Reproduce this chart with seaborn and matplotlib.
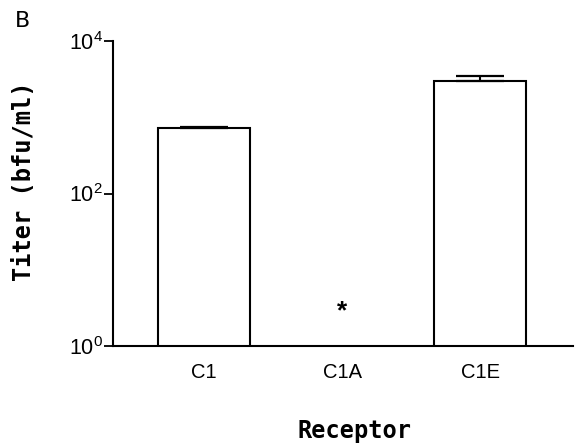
import numpy as np
import pandas as pd
import matplotlib
matplotlib.use("Agg")
import matplotlib.pyplot as plt
import seaborn as sns

# ---- data ----
receptors = ["C1", "C1A", "C1E"]
titer = [717.0, np.nan, 3016.0]          # C1A: below detection (asterisk)
titer_err_upper = [36.0, np.nan, 454.0]
ytick_values = [1, 100, 10000]
ytick_labels = [r"$10^{0}$", r"$10^{2}$", r"$10^{4}$"]
annotation_text = "*"
annotation_pos = ("C1A", 2.85)

sns.set_theme(style="white")
plt.rcParams["font.family"] = ["Liberation Sans", "DejaVu Sans"]
plt.rcParams["mathtext.fontset"] = "custom"
plt.rcParams["mathtext.rm"] = "Liberation Sans"
plt.rcParams["mathtext.it"] = "Liberation Sans"
plt.rcParams["mathtext.bf"] = "Liberation Sans:bold"

df = pd.DataFrame({"Receptor": receptors, "Titer": titer})

fig = plt.figure(figsize=(5.8, 4.47), dpi=100)
ax = fig.add_axes([113 / 580, 1 - 346 / 447, 460 / 580, 305 / 447])

sns.barplot(data=df, x="Receptor", y="Titer", order=receptors,
            color="white", edgecolor="black", linewidth=1.5,
            width=2 / 3, errorbar=None, ax=ax)

xpos = np.arange(len(receptors))
vals = np.array(titer)
errs = np.array(titer_err_upper)
ax.errorbar(xpos, vals, yerr=[np.zeros_like(errs), errs], fmt="none",
            ecolor="black", elinewidth=1.5, capsize=17, capthick=1.6)

ax.set_yscale("log")
ax.set_ylim(1, 10000)
ax.set_xlim(-0.66, 2.67)
ax.set_yticks(ytick_values, labels=ytick_labels)
ax.yaxis.set_minor_locator(matplotlib.ticker.NullLocator())

for s in ["top", "right"]:
    ax.spines[s].set_visible(False)
for s in ["left", "bottom"]:
    ax.spines[s].set_color("black")
    ax.spines[s].set_linewidth(1.5)

ax.tick_params(axis="y", which="major", left=True, length=6.5, width=1.3,
               color="black", pad=1, labelsize=15.5, labelcolor="black")
ax.tick_params(axis="x", length=0, pad=12, labelsize=14.5, labelcolor="black")

ax.text(receptors.index(annotation_pos[0]), annotation_pos[1], annotation_text,
        ha="center", va="center", fontsize=19, fontweight="bold", color="black")

mono = dict(family="DejaVu Sans Mono", fontweight="bold", fontsize=17, color="black")
ax.set_ylabel("Titer (bfu/ml)", **mono)
ax.set_xlabel("Receptor", **mono)
ax.yaxis.set_label_coords(-0.168, 0.541)
ax.xaxis.set_label_coords(0.524, -0.24)

fig.text(15 / 580, 1 - 11 / 447, "B", ha="left", va="top",
         family="DejaVu Sans", fontsize=16, color="black")

fig.savefig("out.png", dpi=100)
